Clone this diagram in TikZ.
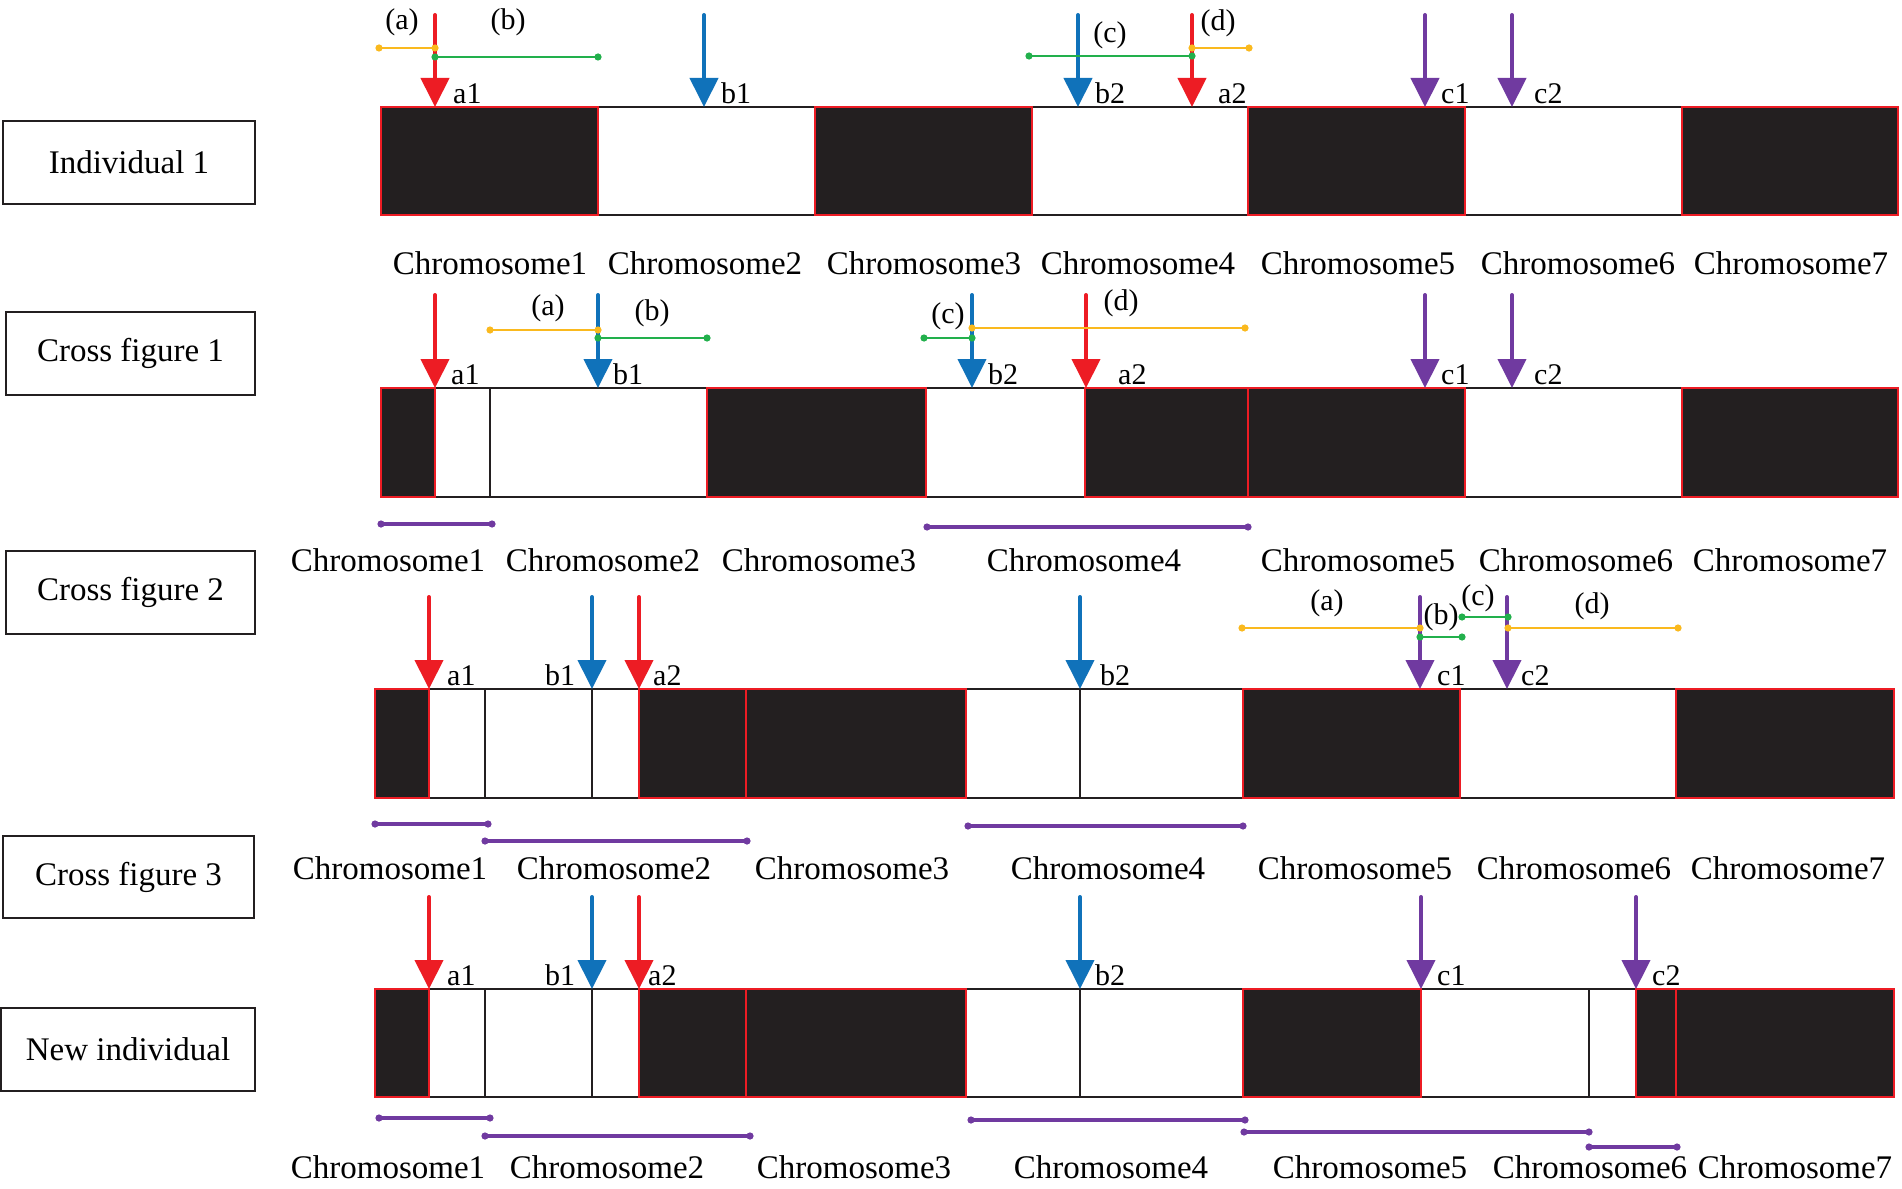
\documentclass[tikz,border=0pt]{standalone}
\usepackage{fontspec}
\setmainfont{Liberation Serif}
\usetikzlibrary{arrows.meta}
\definecolor{cred}{RGB}{237,28,36}
\definecolor{cblue}{RGB}{16,114,186}
\definecolor{cpurple}{RGB}{112,58,160}
\definecolor{cyellow}{RGB}{250,185,30}
\definecolor{cgreen}{RGB}{34,176,76}
\definecolor{cblack}{RGB}{35,31,32}
\tikzset{
 blkseg/.style={fill=cblack, draw=cred, line width=2pt},
 whtseg/.style={fill=white, draw=cblack, line width=2pt},
 arr/.style={line width=4pt, line cap=round, -{Triangle[width=28pt,length=29pt]}},
 segline/.style={line width=2.7pt},
 uline/.style={cpurple, line width=3.2pt},
 arrlab/.style={anchor=base west, inner sep=0pt, font=\fontsize{30}{36}\selectfont},
 seglab/.style={anchor=center, inner sep=0pt, font=\fontsize{30}{36}\selectfont},
 chrlab/.style={anchor=center, inner sep=0pt, font=\fontsize{33}{40}\selectfont},
 rowbox/.style={draw=cblack, line width=2pt, fill=white, inner sep=0pt, minimum height=83pt, font=\fontsize{33}{40}\selectfont},
}
% arrow: name, colour, x, y start, y tip, label, label left x
\newcommand\chrarr[7]{%
  \coordinate (#1s) at (#3,#4);
  \coordinate (#1e) at (#3,#5);
  \draw[arr,#2] (#1s) -- (#1e);
  \node[arrlab] (#1l) at (#7,#5-4) {#6};}
% dotted-end line: name, style, x1, x2, y
\newcommand\dotline[5]{%
  \coordinate (#1l) at (#3,#5);
  \coordinate (#1r) at (#4,#5);
  \draw[#2] (#1l) -- (#1r);
  \fill[#2] (#1l) circle[radius=3.6pt] (#1r) circle[radius=3.6pt];}
\begin{document}
\begin{tikzpicture}[x=1pt,y=-1pt]
\path[use as bounding box, fill=white] (0,0) rectangle (1902,1188);

% ---------- row boxes ----------
\node[rowbox, minimum width=252pt] (ind1) at (129,162.5) {Individual 1};
\node[rowbox, minimum width=249pt] (cf1) at (130.5,353.5) {Cross figure 1};
\node[rowbox, minimum width=249pt] (cf2) at (130.5,592.5) {Cross figure 2};
\node[rowbox, minimum width=251pt, minimum height=82pt] (cf3) at (128.5,877) {Cross figure 3};
\node[rowbox, minimum width=254pt] (newi) at (128,1049.5) {New individual};

% ---------- bars ----------
\foreach \a/\b in {598/815,1032/1248,1465/1682}
  \draw[whtseg] (\a,107) rectangle (\b,215);
\foreach \a/\b in {381/598,815/1032,1248/1465,1682/1898}
  \draw[blkseg] (\a,107) rectangle (\b,215);

\foreach \a/\b in {435/490,490/707,926/1085,1465/1682}
  \draw[whtseg] (\a,388) rectangle (\b,497);
\foreach \a/\b in {381/435,707/926,1085/1248,1248/1465,1682/1898}
  \draw[blkseg] (\a,388) rectangle (\b,497);

\foreach \a/\b in {429/485,485/592,592/639,966/1080,1080/1243,1460/1676}
  \draw[whtseg] (\a,689) rectangle (\b,798);
\foreach \a/\b in {375/429,639/746,746/966,1243/1460,1676/1894}
  \draw[blkseg] (\a,689) rectangle (\b,798);

\foreach \a/\b in {429/485,485/592,592/639,966/1080,1080/1243,1421/1589,1589/1636}
  \draw[whtseg] (\a,989) rectangle (\b,1097);
\foreach \a/\b in {375/429,639/746,746/966,1243/1421,1636/1676,1676/1894}
  \draw[blkseg] (\a,989) rectangle (\b,1097);

% ---------- arrows ----------
\chrarr{ra1}{cred}{435}{15}{107}{a1}{453}
\chrarr{rb1}{cblue}{704}{15}{107}{b1}{721}
\chrarr{rb2}{cblue}{1078}{15}{107}{b2}{1095}
\chrarr{ra2}{cred}{1192}{15}{107}{a2}{1218}
\chrarr{rc1}{cpurple}{1425}{15}{107}{c1}{1441}
\chrarr{rc2}{cpurple}{1512}{15}{107}{c2}{1534}

\chrarr{sa1}{cred}{435}{295}{388}{a1}{451}
\chrarr{sb1}{cblue}{598}{295}{388}{b1}{613}
\chrarr{sb2}{cblue}{972}{295}{388}{b2}{988}
\chrarr{sa2}{cred}{1086}{295}{388}{a2}{1118}
\chrarr{sc1}{cpurple}{1425}{295}{388}{c1}{1441}
\chrarr{sc2}{cpurple}{1512}{295}{388}{c2}{1534}

\chrarr{ta1}{cred}{429}{597}{689}{a1}{447}
\chrarr{tb1}{cblue}{592}{597}{689}{b1}{545}
\chrarr{ta2}{cred}{639}{597}{689}{a2}{653}
\chrarr{tb2}{cblue}{1080}{597}{689}{b2}{1100}
\chrarr{tc1}{cpurple}{1420}{597}{689}{c1}{1437}
\chrarr{tc2}{cpurple}{1507}{597}{689}{c2}{1521}

\chrarr{ua1}{cred}{429}{897}{989}{a1}{447}
\chrarr{ub1}{cblue}{592}{897}{989}{b1}{545}
\chrarr{ua2}{cred}{639}{897}{989}{a2}{648}
\chrarr{ub2}{cblue}{1080}{897}{989}{b2}{1095}
\chrarr{uc1}{cpurple}{1421}{897}{989}{c1}{1437}
\chrarr{uc2}{cpurple}{1636}{897}{989}{c2}{1652}

% ---------- crossover segments ----------
\dotline{ry}{segline,cyellow}{379}{435}{48}
\dotline{rg}{segline,cgreen}{435}{598}{57}
\dotline{rg2}{segline,cgreen}{1029}{1192}{56}
\dotline{ry2}{segline,cyellow}{1192}{1249}{48}
\node[seglab] (rla) at (402,22) {(a)};
\node[seglab] (rlb) at (508,22) {(b)};
\node[seglab] (rlc) at (1110,35) {(c)};
\node[seglab] (rld) at (1218,23) {(d)};

\dotline{sy}{segline,cyellow}{490}{598}{330}
\dotline{sg}{segline,cgreen}{598}{707}{338}
\dotline{sg2}{segline,cgreen}{924}{972}{338}
\dotline{sy2}{segline,cyellow}{972}{1245}{328}
\node[seglab] (sla) at (548,308) {(a)};
\node[seglab] (slb) at (652,313) {(b)};
\node[seglab] (slc) at (948,316) {(c)};
\node[seglab] (sld) at (1121,303) {(d)};

\dotline{ty}{segline,cyellow}{1242}{1420}{628}
\dotline{tg}{segline,cgreen}{1420}{1462}{637}
\dotline{tg2}{segline,cgreen}{1462}{1508}{617}
\dotline{ty2}{segline,cyellow}{1508}{1678}{628}
\node[seglab] (tla) at (1327,603) {(a)};
\node[seglab] (tlb) at (1441,617) {(b)};
\node[seglab] (tlc) at (1478,598) {(c)};
\node[seglab] (tld) at (1592,606) {(d)};

% ---------- chromosome spans ----------
\dotline{su1}{uline}{381}{492}{524}
\dotline{su4}{uline}{927}{1248}{527}

\dotline{tu1}{uline}{375}{488}{824}
\dotline{tu2}{uline}{485}{747}{841}
\dotline{tu4}{uline}{968}{1243}{826}

\dotline{uu1}{uline}{379}{490}{1118}
\dotline{uu2}{uline}{485}{750}{1136}
\dotline{uu4}{uline}{971}{1245}{1120}
\dotline{uu5}{uline}{1244}{1589}{1132}
\dotline{uu6}{uline}{1589}{1677}{1147}

% ---------- chromosome names ----------
\foreach \x [count=\i] in {490,705,924,1138,1358,1578,1791}
  \node[chrlab] (ca\i) at (\x,263) {Chromosome\i};
\foreach \x [count=\i] in {388,603,819,1084,1358,1576,1790}
  \node[chrlab] (cb\i) at (\x,560) {Chromosome\i};
\foreach \x [count=\i] in {390,614,852,1108,1355,1574,1788}
  \node[chrlab] (cc\i) at (\x,868) {Chromosome\i};
\foreach \x [count=\i] in {388,607,854,1111,1370,1590,1795}
  \node[chrlab] (cd\i) at (\x,1167) {Chromosome\i};
\end{tikzpicture}
\end{document}
